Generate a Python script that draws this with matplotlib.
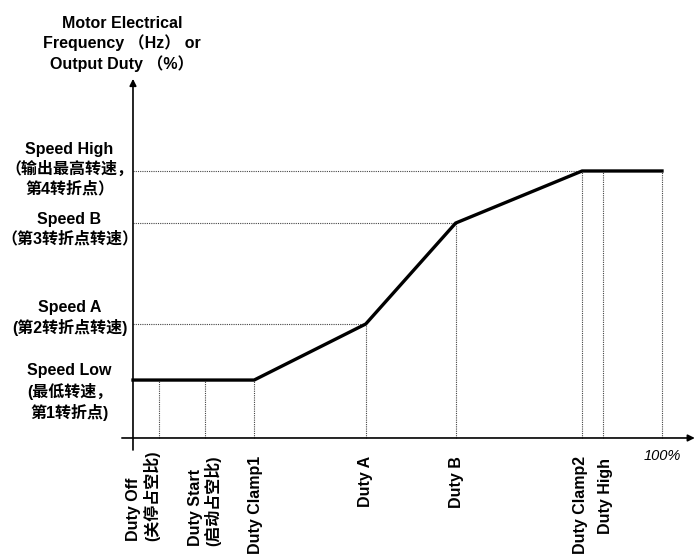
import matplotlib.pyplot as plt

plt.rcParams['font.family'] = ['Liberation Sans', 'Noto Sans CJK SC', 'DejaVu Sans']

# duty positions (% of full scale)
duty_names = ['Duty Off\n(关停占空比)', 'Duty Start\n(启动占空比)', 'Duty Clamp1',
              'Duty A', 'Duty B', 'Duty Clamp2', 'Duty High']
duty_vals = [4.9, 13.6, 22.9, 44.0, 61.0, 84.9, 88.8]
duty_full = 100

# speed levels (relative, Speed High = 100)
speed_names = ['Speed Low\n(最低转速，\n第1转折点)', 'Speed A\n(第2转折点转速)',
               'Speed B\n（第3转折点转速）', 'Speed High\n（输出最高转速，\n第4转折点）']
speed_vals = [21.7, 42.7, 80.5, 100.0]

# curve breakpoints
curve_x = [0, duty_vals[2], duty_vals[3], duty_vals[4], duty_vals[5], duty_full]
curve_y = [speed_vals[0], speed_vals[0], speed_vals[1], speed_vals[2], speed_vals[3], speed_vals[3]]

fig = plt.figure(figsize=(6.95, 5.54), dpi=100)
ax = fig.add_axes([0, 0, 1, 1])
ax.set_xlim(-25.14, 106.24)
ax.set_ylim(-43.45, 164.04)
ax.axis('off')

dot = dict(color='#444444', lw=0.8, ls=(0, (1, 1)))

# axes with arrows
ax.annotate('', xy=(106.2, 0), xytext=(-2.1, 0),
            arrowprops=dict(arrowstyle='-|>', lw=1.2, color='black', mutation_scale=10,
                            shrinkA=0, shrinkB=0))
ax.annotate('', xy=(0, 134.5), xytext=(0, -4.5),
            arrowprops=dict(arrowstyle='-|>', lw=1.2, color='black', mutation_scale=10,
                            shrinkA=0, shrinkB=0))

# dotted guides
ax.plot([duty_vals[0], duty_vals[0]], [0, speed_vals[0]], **dot)
ax.plot([duty_vals[1], duty_vals[1]], [0, speed_vals[0]], **dot)
ax.plot([duty_vals[2], duty_vals[2]], [0, speed_vals[0]], **dot)
ax.plot([duty_vals[3], duty_vals[3]], [0, speed_vals[1]], **dot)
ax.plot([duty_vals[4], duty_vals[4]], [0, speed_vals[2]], **dot)
ax.plot([duty_vals[5], duty_vals[5]], [0, speed_vals[3]], **dot)
ax.plot([duty_vals[6], duty_vals[6]], [0, speed_vals[3]], **dot)
ax.plot([duty_full, duty_full], [0, speed_vals[3]], **dot)
ax.plot([0, duty_vals[3]], [speed_vals[1], speed_vals[1]], **dot)
ax.plot([0, duty_vals[4]], [speed_vals[2], speed_vals[2]], **dot)
ax.plot([0, duty_vals[5]], [speed_vals[3], speed_vals[3]], **dot)

# curve
ax.plot(curve_x, curve_y, color='black', lw=2.4, solid_joinstyle='miter')

fs = 11.5
# y labels
speed_text_y = [17.2, 44.9, 78.1, 100.7]
for name, ty in zip(speed_names, speed_text_y):
    ax.text(-12.0, ty, name, ha='center', va='center', fontsize=fs, fontweight='bold',
            linespacing=1.3)

# x labels
duty_text_x = [1.9, 13.6, 23.1, 44.0, 61.1, 84.6, 89.3]
duty_text_top = [-4.7, -6.5, -6.6, -6.7, -6.7, -6.6, -7.5]
for name, tx, top in zip(duty_names, duty_text_x, duty_text_top):
    ax.text(tx, top, name, rotation=90, ha='center', va='top', fontsize=fs,
            fontweight='bold', multialignment='left', linespacing=1.1)

ax.text(duty_full, -6.8, '100%', ha='center', va='center', fontsize=10.5, style='italic')

ax.text(-2.1, 147.6, 'Motor Electrical\nFrequency （Hz） or\nOutput Duty （%）',
        ha='center', va='center', fontsize=fs, fontweight='bold', linespacing=1.3)

fig.savefig('out.png', dpi=100)
